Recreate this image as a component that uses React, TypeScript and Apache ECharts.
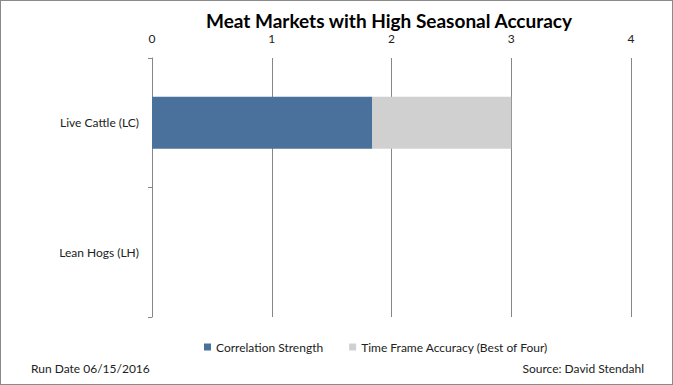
import React, { useEffect, useRef } from "react";
import * as echarts from "echarts";

const categories = ["Live Cattle (LC)", "Lean Hogs (LH)"];
const correlationStrength = [1.84, 0];
const timeFrameAccuracy = [1.16, 0];
const xTicks = [0, 1, 2, 3, 4];

const FONT = "Lato, 'Open Sans', sans-serif";

export default function App() {
  const ref = useRef<HTMLDivElement>(null);
  useEffect(() => {
    document.body.style.margin = "0";
    const chart = echarts.init(ref.current!, null, { renderer: "svg" });
    chart.setOption({
      animation: false,
      backgroundColor: "#ffffff",
      title: {
        text: "Meat Markets with High Seasonal Accuracy",
        left: 388,
        top: 9,
        padding: 0,
        textAlign: "center",
        textStyle: { fontFamily: FONT, fontSize: 19, fontWeight: "bold", color: "#000", lineHeight: 20 },
      },
      grid: { left: 151, right: 41, top: 57, bottom: 67 },
      legend: {
        data: ["Correlation Strength", "Time Frame Accuracy (Best of Four)"],
        left: 198,
        top: 335,
        itemWidth: 7,
        itemHeight: 7,
        itemGap: 26,
        icon: "rect",
        textStyle: { fontFamily: FONT, fontSize: 12, color: "#222" },
      },
      xAxis: {
        type: "value",
        position: "top",
        min: xTicks[0],
        max: xTicks[xTicks.length - 1],
        interval: 1,
        axisLine: { show: false },
        axisTick: { show: false },
        axisLabel: { margin: 14, fontFamily: FONT, fontSize: 12, lineHeight: 12, color: "#222" },
        splitLine: { show: true, lineStyle: { color: "#868686", width: 1 } },
      },
      yAxis: {
        type: "category",
        inverse: true,
        data: categories,
        axisLine: { show: true, lineStyle: { color: "#868686", width: 1 } },
        axisTick: { show: true, length: 4, lineStyle: { color: "#868686" } },
        axisLabel: { margin: 13, fontFamily: FONT, fontSize: 12, color: "#222" },
      },
      series: [
        {
          name: "Correlation Strength",
          type: "bar",
          stack: "a",
          data: correlationStrength,
          barWidth: "40%",
          itemStyle: { color: "#4A709C" },
        },
        {
          name: "Time Frame Accuracy (Best of Four)",
          type: "bar",
          stack: "a",
          data: timeFrameAccuracy,
          barWidth: "40%",
          itemStyle: { color: "#D0D0D0" },
        },
      ],
      graphic: [
        {
          type: "text",
          left: 30,
          top: 361,
          style: { text: "Run Date 06/15/2016", font: `12px ${FONT}`, fill: "#222" },
        },
        {
          type: "text",
          right: 28,
          top: 361,
          style: { text: "Source: David Stendahl", font: `12px ${FONT}`, fill: "#222" },
        },
      ],
    });
    return () => chart.dispose();
  }, []);
  return (
    <div
      style={{
        width: 673,
        height: 385,
        border: "1px solid #8a8a8a",
        boxSizing: "border-box",
        position: "relative",
        overflow: "hidden",
      }}
    >
      <div ref={ref} style={{ width: 671, height: 383 }} />
    </div>
  );
}
